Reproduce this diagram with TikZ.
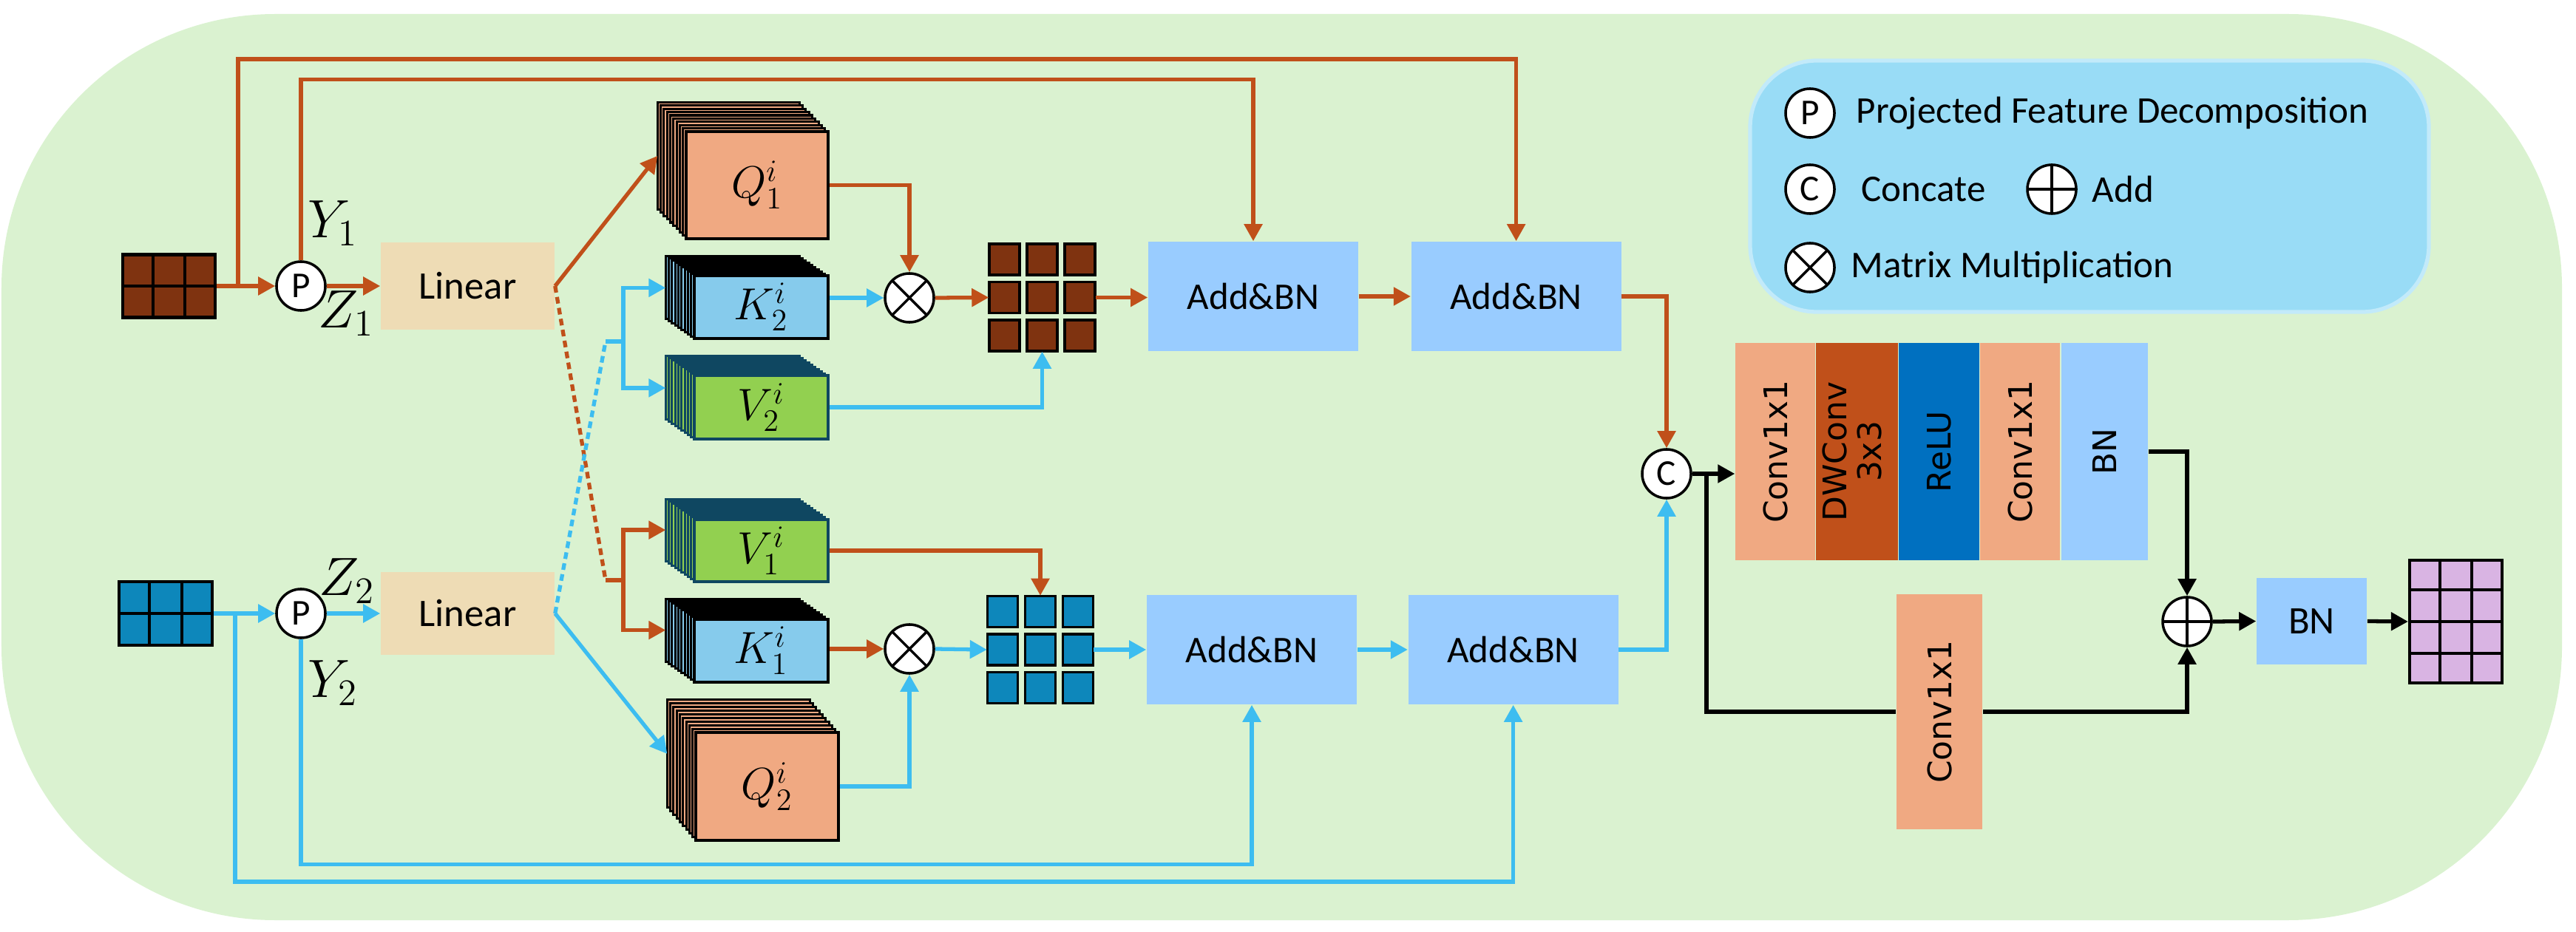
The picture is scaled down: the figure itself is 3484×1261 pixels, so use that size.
\documentclass[tikz,border=0pt]{standalone}
\usepackage[no-math]{fontspec}
\setmainfont{Carlito}
\newfontfamily\colfont{DejaVu Sans}
\usetikzlibrary{arrows.meta,positioning,calc}

\definecolor{bggreen}{RGB}{218,242,208}
\definecolor{lnbrown}{RGB}{192,80,26}
\definecolor{lnblue}{RGB}{61,189,240}
\definecolor{cellbrown}{RGB}{127,51,16}
\definecolor{cellblue}{RGB}{13,135,187}
\definecolor{qfill}{RGB}{240,169,130}
\definecolor{kfill}{RGB}{134,203,236}
\definecolor{vfill}{RGB}{146,208,80}
\definecolor{vdraw}{RGB}{15,71,97}
\definecolor{bnblue}{RGB}{153,204,255}
\definecolor{linfill}{RGB}{238,220,181}
\definecolor{legfill}{RGB}{153,220,246}
\definecolor{legdraw}{RGB}{194,234,250}
\definecolor{purp}{RGB}{217,180,227}
\definecolor{relufill}{RGB}{0,112,192}

% stack of feature maps: name, front centre x, y, width, height, layer style, shift, label
\newcommand{\featstack}[8]{%
  \foreach \k in {9,...,1}
    \draw[#6] ({#2-\k*4.3-#4/2},{#3-\k*#7-#5/2}) rectangle ++(#4,#5);
  \coordinate (#1in) at ({#2-9*4.3-#4/2},{#3-9*#7});
  \node[#6, inner sep=0pt, minimum width={#4*0.01cm}, minimum height={#5*0.01cm},
    font=\fontsize{18}{20}\selectfont] (#1) at (#2,#3) {#8};
}
% 3x3 attention map: name, centre x, y, cell colour
\newcommand{\attgrid}[4]{%
  \node[inner sep=0pt, minimum width=1.43cm, minimum height=1.45cm] (#1) at (#2,#3) {};
  \foreach \i in {-1,0,1}
    \foreach \j in {-1,0,1}
      \filldraw[draw=black, line width=1.1pt, fill=#4]
        ({#2+\i*51-20.5},{#3+\j*51.5-21}) rectangle ++(41,42);
}

\begin{document}
\begin{tikzpicture}[
  x=0.01cm, y=-0.01cm,
  bline/.style={line width=1.5pt, color=lnbrown},
  cline/.style={line width=1.5pt, color=lnblue},
  kline/.style={line width=1.5pt, color=black},
  arrtip/.style={-{Triangle[length=0.23cm,width=0.24cm]}},
  barr/.style={bline, arrtip},
  carr/.style={cline, arrtip},
  karr/.style={kline, arrtip},
  dsh/.style={dash pattern=on 0.09cm off 0.06cm},
  qlay/.style={draw=black, fill=qfill, line width=0.9pt},
  klay/.style={draw=black, fill=kfill, line width=0.9pt},
  vlay/.style={draw=vdraw, fill=vfill, line width=0.9pt},
  lin/.style={rectangle, fill=linfill, inner sep=0pt,
    minimum width=2.35cm, font=\fontsize{15}{18}\selectfont},
  addbn/.style={rectangle, fill=bnblue, inner sep=0pt,
    minimum width=2.84cm, minimum height=1.48cm,
    font=\fontsize{14.5}{17}\selectfont},
  col/.style={rectangle, inner sep=0pt, minimum height=2.94cm,
    font=\colfont\fontsize{12.5}{13}\selectfont},
  op/.style={circle, draw, fill=white, line width=1pt,
    minimum size=0.66cm, inner sep=0pt, font=\fontsize{14}{16}\selectfont},
  mulop/.style={op, path picture={
    \draw[line width=1pt] (path picture bounding box.north west) -- (path picture bounding box.south east)
      (path picture bounding box.south west) -- (path picture bounding box.north east);}},
  plusop/.style={op, path picture={
    \draw[line width=1pt] (path picture bounding box.north) -- (path picture bounding box.south)
      (path picture bounding box.west) -- (path picture bounding box.east);}},
  ingrid/.style={draw, line width=1.2pt, inner sep=0pt},
  mlab/.style={inner sep=0pt, font=\fontsize{20}{24}\selectfont},
  legtext/.style={anchor=west, inner sep=0pt, font=\fontsize{14.5}{17}\selectfont},
]
  \useasboundingbox (0,0) rectangle (3484,1261);

  %% ── Background and legend ───────────────────────────────────
  \fill[bggreen, rounded corners=3.7cm] (2,19) rectangle (3465,1245);
  \filldraw[fill=legfill, draw=legdraw, line width=1.5pt, rounded corners=0.9cm]
    (2367,82) rectangle (3285,422);

  \node[op] (lgp) at (2448,153) {P};
  \node[legtext] (lgpt) at (2510,153) {Projected Feature Decomposition};
  \node[op] (lgc) at (2448,256) {C};
  \node[legtext] (lgct) at (2517,256) {Concate};
  \node[plusop] (lga) at (2775,256) {};
  \node[legtext] (lgat) at (2829,256) {Add};
  \node[mulop] (lgm) at (2448,362) {};
  \node[legtext] (lgmt) at (2503,362) {Matrix Multiplication};

  %% ── Inputs, decomposition, linear ───────────────────────────
  \node[ingrid, fill=cellbrown, minimum width=1.25cm, minimum height=0.85cm] (xin1) at (228.5,387) {};
  \foreach \f in {0.333,0.667}
    \draw[line width=1.2pt] ($(xin1.north west)!\f!(xin1.north east)$) -- ($(xin1.south west)!\f!(xin1.south east)$);
  \draw[line width=1.2pt] (xin1.west) -- (xin1.east);

  \node[ingrid, fill=cellblue, minimum width=1.26cm, minimum height=0.86cm] (xin2) at (224,830) {};
  \foreach \f in {0.333,0.667}
    \draw[line width=1.2pt] ($(xin2.north west)!\f!(xin2.north east)$) -- ($(xin2.south west)!\f!(xin2.south east)$);
  \draw[line width=1.2pt] (xin2.west) -- (xin2.east);

  \node[op] (p1) at (407,387) {P};
  \node[op] (p2) at (407,830) {P};
  \node[mlab] (y1) at (450,302) {$Y_1$};
  \node[mlab] (z1) at (468,424) {$Z_1$};
  \node[mlab] (z2) at (469,786) {$Z_2$};
  \node[mlab] (y2) at (450,924) {$Y_2$};

  \node[lin, minimum height=1.18cm] (lin1) at (632.5,387) {Linear};
  \node[lin, minimum height=1.12cm] (lin2) at (632.5,830) {Linear};

  %% ── Q / K / V feature stacks ────────────────────────────────
  \featstack{q1}{1024}{250.5}{192}{145}{qlay}{4.4}{$Q_1^i$}
  \featstack{k2}{1029.5}{415.5}{181}{85}{klay}{2.9}{$K_2^i$}
  \featstack{v2}{1029.5}{551}{181}{86}{vlay}{2.9}{$V_2^i$}
  \featstack{v1}{1029.5}{745}{181}{84}{vlay}{3.1}{$V_1^i$}
  \featstack{k1}{1029.5}{880.5}{181}{85}{klay}{3.1}{$K_1^i$}
  \featstack{q2}{1037.5}{1064}{193}{146}{qlay}{4.9}{$Q_2^i$}

  \node[mulop] (m1) at (1230,403) {};
  \node[mulop] (m2) at (1230,878) {};
  \attgrid{att1}{1409.5}{402.5}{cellbrown}
  \attgrid{att2}{1407}{879}{cellblue}

  %% ── Add&BN blocks ───────────────────────────────────────────
  \node[addbn] (ab1) at (1695,401) {Add\&BN};
  \node[addbn, right=0.7cm of ab1] (ab2) {Add\&BN};
  \node[addbn] (ab3) at (1693,879) {Add\&BN};
  \node[addbn, right=0.68cm of ab3] (ab4) {Add\&BN};

  %% ── Fusion head ─────────────────────────────────────────────
  \node[op] (cc) at (2254,641) {C};
  \node[col, fill=qfill, minimum width=1.08cm] (cv1) at (2401,611) {\rotatebox{90}{Conv1x1}};
  \node[col, fill=lnbrown, minimum width=1.10cm, right=0pt of cv1] (dw)
    {\rotatebox{90}{\begin{tabular}{@{}c@{}}DWConv\\3x3\end{tabular}}};
  \node[col, fill=relufill, minimum width=1.09cm, right=0pt of dw] (relu) {\rotatebox{90}{ReLU}};
  \node[col, fill=qfill, minimum width=1.08cm, right=0pt of relu] (cv2) {\rotatebox{90}{Conv1x1}};
  \node[col, fill=bnblue, minimum width=1.17cm, right=0pt of cv2] (bn1) {\rotatebox{90}{BN}};
  \node[col, fill=qfill, minimum width=1.16cm, minimum height=3.18cm] (cvs) at (2623,963) {\rotatebox{90}{Conv1x1}};

  \node[plusop] (addo) at (2958,841) {};
  \node[rectangle, fill=bnblue, inner sep=0pt, minimum width=1.49cm, minimum height=1.17cm,
    font=\fontsize{15}{18}\selectfont] (bn2) at (3126.5,840.5) {BN};
  \node[ingrid, fill=purp, minimum width=1.25cm, minimum height=1.66cm] (yout) at (3321.5,841) {};
  \foreach \f in {0.333,0.667}
    \draw[line width=1.1pt] ($(yout.north west)!\f!(yout.north east)$) -- ($(yout.south west)!\f!(yout.south east)$);
  \foreach \f in {0.25,0.5,0.75}
    \draw[line width=1.1pt] ($(yout.north west)!\f!(yout.south west)$) -- ($(yout.north east)!\f!(yout.south east)$);

  %% ── Upper branch connectors ─────────────────────────────────
  \coordinate (br1) at (322,387);
  \coordinate (dsh1) at (819,785);
  \coordinate (fork1) at (843,785);
  \draw[barr] (xin1.east) -- (p1.west);
  \draw[barr] (br1) -- ++(0,-307) -| (ab2.north);
  \draw[barr] (p1.north) -- ++(0,-245) -| (ab1.north);
  \draw[barr] (p1.east) -- (lin1.west);
  \draw[barr] (lin1.east) -- (q1in);
  \draw[bline, dsh] (lin1.east) -- (dsh1);
  \draw[bline] (dsh1) -- (fork1);
  \draw[barr] (fork1) |- (v1in);
  \draw[barr] (fork1) |- (k1in);
  \draw[barr] (q1.east) -| (m1.north);
  \draw[carr] (k2.east |- m1.west) -- (m1.west);
  \draw[barr] (m1.east) -- (att1.west);
  \draw[carr] (v2.east) -| (att1.south);
  \draw[barr] (att1.east) -- (att1.east -| ab1.west);
  \draw[barr] (ab1.east) -- (ab2.west);
  \draw[barr] (ab2.east) -| (cc.north);

  %% ── Lower branch connectors ─────────────────────────────────
  \coordinate (br2) at (318,830);
  \coordinate (dsh2) at (819,462);
  \coordinate (fork2) at (843,462);
  \draw[carr] (xin2.east) -- (p2.west);
  \draw[carr] (br2) -- ++(0,363) -| (ab4.south);
  \draw[carr] (p2.south) -- ++(0,305) -| (ab3.south);
  \draw[carr] (p2.east) -- (lin2.west);
  \draw[carr] (lin2.east) -- (q2in);
  \draw[cline, dsh] (lin2.east) -- (dsh2);
  \draw[cline] (dsh2) -- (fork2);
  \draw[carr] (fork2) |- (k2in);
  \draw[carr] (fork2) |- (v2in);
  \draw[barr] (v1.east) -| (att2.north);
  \draw[barr] (k1.east |- m2.west) -- (m2.west);
  \draw[carr] (q2.east) -| (m2.south);
  \draw[carr] (m2.east) -- (att2.west);
  \draw[carr] (att2.east) -- (att2.east -| ab3.west);
  \draw[carr] (ab3.east) -- (ab4.west);
  \draw[carr] (ab4.east) -| (cc.south);

  %% ── Head connectors ─────────────────────────────────────────
  \coordinate (sk) at (2308,641);
  \draw[karr] (cc.east) -- (cc.east -| cv1.west);
  \draw[kline] (sk) |- (cvs.west);
  \draw[karr] (cvs.east) -| (addo.south);
  \draw[karr] (bn1.east) -| (addo.north);
  \draw[karr] (addo.east) -- (bn2.west);
  \draw[karr] (bn2.east) -- (yout.west);

\end{tikzpicture}
\end{document}
